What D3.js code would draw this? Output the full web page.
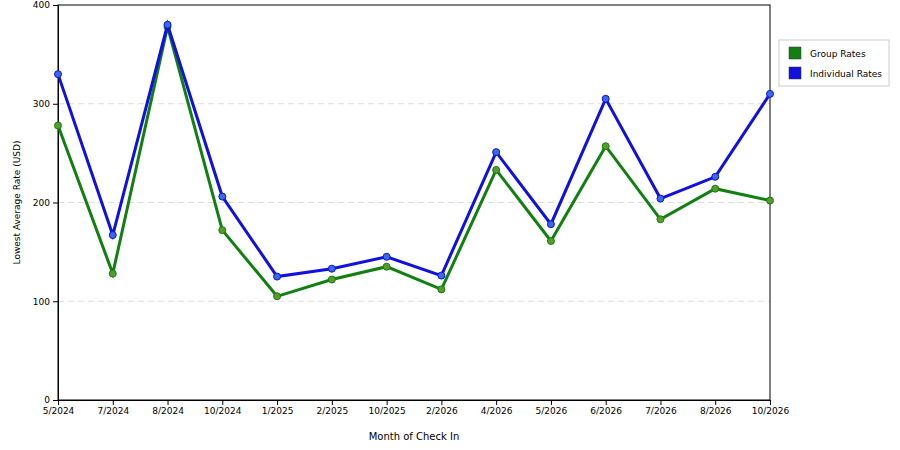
<!DOCTYPE html>
<html><head><meta charset="utf-8">
<script src="https://cdn.jsdelivr.net/npm/d3@7"></script>
<style>body{margin:0;background:#fff}text{font-family:"DejaVu Sans",sans-serif}</style>
</head><body><svg id="chart" width="900" height="450"></svg>
<script>
const months = ["5/2024","7/2024","8/2024","10/2024","1/2025","2/2025","10/2025","2/2026","4/2026","5/2026","6/2026","7/2026","8/2026","10/2026"];
const groupRates = [278, 128, 378, 172, 105, 122, 135, 112, 233, 161, 257, 183, 214, 202];
const individualRates = [330, 167, 380, 206, 125, 133, 145, 126, 251, 178, 305, 204, 226, 310];
const yTicks = [0, 100, 200, 300, 400];

const margin = { top: 5, right: 130, bottom: 50, left: 58 };
const width = 900 - margin.left - margin.right;
const height = 450 - margin.top - margin.bottom;

const svg = d3.select("#chart").append("g")
  .attr("transform", `translate(${margin.left},${margin.top})`);

const x = d3.scalePoint().domain(months).range([0, width]);
const y = d3.scaleLinear().domain([0, 400]).range([height, 0]);

// 网格线
svg.append("g").selectAll("line").data(yTicks.filter(d => d > 0 && d < 400)).enter()
  .append("line")
  .attr("x1", 0).attr("x2", width)
  .attr("y1", d => y(d)).attr("y2", d => y(d))
  .attr("stroke", "#ddd").attr("stroke-dasharray", "6,4");

// 边框
svg.append("rect").attr("width", width).attr("height", height)
  .attr("fill", "none").attr("stroke", "#000");

const xAxis = svg.append("g").attr("transform", `translate(0,${height})`)
  .call(d3.axisBottom(x).tickSizeOuter(0).tickSize(5));
const yAxis = svg.append("g").call(d3.axisLeft(y).tickValues(yTicks).tickSize(5).tickSizeOuter(0));
[xAxis, yAxis].forEach(a => {
  a.selectAll("text").style("font-size", "9px").attr("fill", "#000");
  a.select(".domain").attr("stroke", "#000");
});

svg.append("text").attr("x", width / 2).attr("y", height + 40)
  .attr("text-anchor", "middle").style("font-size", "10px").text("Month of Check In");
svg.append("text").attr("transform", "rotate(-90)")
  .attr("x", -height / 2).attr("y", -38)
  .attr("text-anchor", "middle").style("font-size", "9px").text("Lowest Average Rate (USD)");

const series = [
  { name: "Group Rates", values: groupRates, color: "#108010", dot: "#5a9a2a" },
  { name: "Individual Rates", values: individualRates, color: "#1010e0", dot: "#3a6ae0" }
];

const line = d3.line().x((d, i) => x(months[i])).y(d => y(d));

series.forEach(s => {
  svg.append("path").attr("d", line(s.values))
    .attr("fill", "none").attr("stroke", s.color).attr("stroke-width", 3);
  svg.append("g").selectAll("circle").data(s.values).enter().append("circle")
    .attr("cx", (d, i) => x(months[i])).attr("cy", d => y(d)).attr("r", 3.5)
    .attr("fill", s.dot).attr("stroke", s.color).attr("stroke-width", 1);
});

// 图例
const legend = d3.select("#chart").append("g").attr("transform", "translate(779,40)");
legend.append("rect").attr("width", 110).attr("height", 46)
  .attr("fill", "#fff").attr("stroke", "#ccc");
series.forEach((s, i) => {
  legend.append("rect").attr("x", 10).attr("y", 7 + i * 20).attr("width", 12).attr("height", 12)
    .attr("fill", s.color).attr("stroke", "#333").attr("stroke-width", 0.5);
  legend.append("text").attr("x", 31).attr("y", 17 + i * 20)
    .style("font-size", "9px").text(s.name);
});
</script></body></html>
